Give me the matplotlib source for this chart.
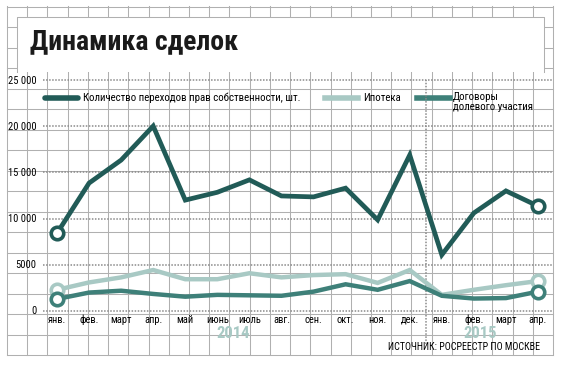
import numpy as np
import matplotlib
matplotlib.use("Agg")
import matplotlib.pyplot as plt
from matplotlib.patches import Rectangle

plt.rcParams['font.family'] = ['Roboto Condensed', 'DejaVu Sans']

months = ['янв.', 'фев.', 'март', 'апр.', 'май', 'июнь', 'июль', 'авг.',
          'сен.', 'окт.', 'ноя.', 'дек.', 'янв.', 'фев.', 'март', 'апр.']
transfers = [8400, 13850, 16350, 20050, 12000, 12850, 14200, 12450,
             12350, 13300, 9850, 16900, 6050, 10600, 13000, 11350]
mortgage = [2250, 3050, 3600, 4400, 3400, 3400, 4050, 3600,
            3850, 3950, 3000, 4400, 1700, 2250, 2750, 3200]
equity = [1250, 1950, 2150, 1800, 1500, 1700, 1650, 1600,
          2050, 2850, 2250, 3200, 1600, 1300, 1350, 2050]
yticks = [0, 5000, 10000, 15000, 20000, 25000]
ylabels = ['0', '5000', '10 000', '15 000', '20 000', '25 000']
years = ['2014', '2015']

c_main = '#215b57'
c_mort = '#a8c9c4'
c_eq = '#3e8079'
c_grid = '#b0b0b0'

W, H = 564, 365
fig = plt.figure(figsize=(W / 100, H / 100), dpi=100)

# background "graph paper" in pixel coordinates
bg = fig.add_axes([0, 0, 1, 1])
bg.set_xlim(0, W)
bg.set_ylim(H, 0)
bg.axis('off')
for x in 7 + 20.22 * np.arange(28):
    bg.plot([x, x], [6, 355], color=c_grid, lw=0.75)
for y in 355 - 20.5 * np.arange(18):
    bg.plot([7, 553], [y, y], color=c_grid, lw=0.75)
bg.add_patch(Rectangle((17, 17), 527, 55, facecolor='white', edgecolor='none', zorder=3))
bg.plot([17, 17, 544, 544], [72, 17, 17, 72], color=c_grid, lw=0.75, zorder=4)
bg.text(30, 42, 'Динамика сделок', fontsize=20, fontweight='heavy',
        va='center', ha='left', color='#1a1a1a', zorder=5)

# legend
fs = 7.8
bg.plot([45, 78], [98, 98], color=c_main, lw=4, solid_capstyle='round')
bg.text(83, 98, 'Количество переходов прав собственности, шт.', fontsize=fs, va='center')
bg.plot([325, 358], [98, 98], color=c_mort, lw=4)
bg.text(363, 98, 'Ипотека', fontsize=fs, va='center')
bg.plot([417, 450], [98, 98], color=c_eq, lw=4)
bg.text(453, 92, 'Договоры\nдолевого участия', fontsize=fs, va='top',
        linespacing=1.0)
bg.text(540, 347, 'ИСТОЧНИК: РОСРЕЕСТР ПО МОСКВЕ', fontsize=7.2, ha='right', va='center')

# data axes
x0, x1 = 57, 538
y0, y1 = 310.5, 80.5
ax = fig.add_axes([x0 / W, 1 - y0 / H, (x1 - x0) / W, (y0 - y1) / H])
ax.patch.set_alpha(0)
for s in ax.spines.values():
    s.set_visible(False)
x = np.arange(len(months))
ax.set_xlim(0, 15)
ax.set_ylim(0, 25000)

ax.hlines(yticks, -0.44, 15.47, colors='#8a8a8a', lw=1.1, linestyles=(0, (1, 1)),
          clip_on=False, zorder=1)
ax.vlines(11.5, -3600, 25000, colors='#8a8a8a', lw=1.1, linestyles=(0, (1, 1)),
          clip_on=False, zorder=1)

for vals, col, lw in [(mortgage, c_mort, 3.2), (equity, c_eq, 3.2), (transfers, c_main, 3.4)]:
    ax.plot(x, vals, color=col, lw=lw, clip_on=False, zorder=3, solid_joinstyle='miter')
    ax.plot(x[[0, -1]], np.array(vals)[[0, -1]], 'o', ms=9, mfc='white', mec=col,
            mew=2.6, clip_on=False, zorder=4)

ax.set_yticks(yticks)
ax.set_yticklabels(ylabels, fontsize=7.6)
ax.set_xticks(x)
ax.set_xticklabels(months, fontsize=7.6)
ax.tick_params(axis='y', length=0, pad=15)
ax.tick_params(axis='x', length=0, pad=3)

ax.text(5.5, -2550, years[0], color=c_mort, fontsize=12, fontweight='bold',
        ha='center', va='center')
ax.text(13.2, -2550, years[1], color=c_mort, fontsize=12, fontweight='bold',
        ha='center', va='center')

fig.savefig('out.png', dpi=100, facecolor='white')
